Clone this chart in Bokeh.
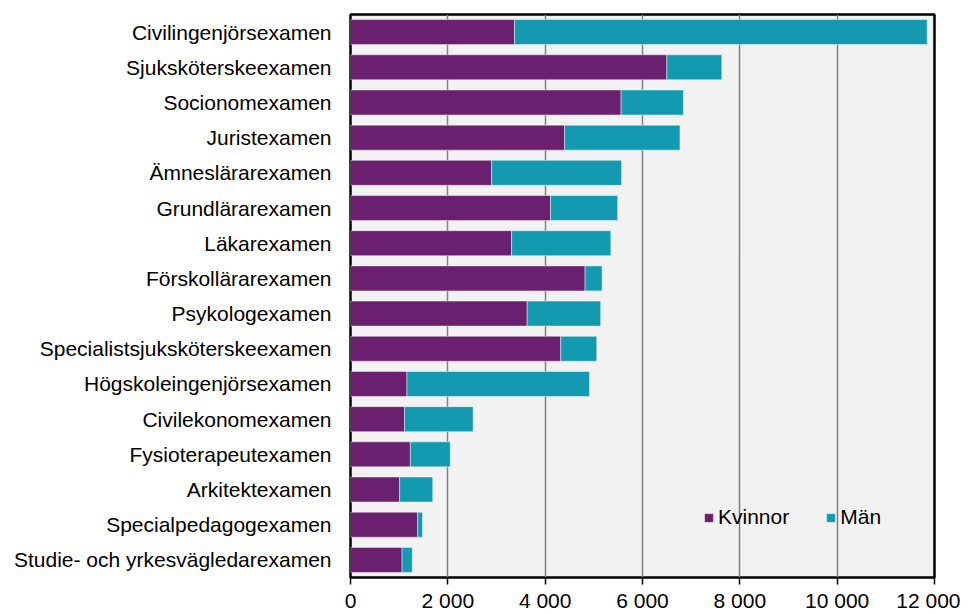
from bokeh.plotting import figure
from bokeh.models import ColumnDataSource, FactorRange, Legend, LegendItem, FixedTicker, Range1d
from bokeh.embed import file_html
from bokeh.resources import INLINE

categories = ["Civilingenjörsexamen", "Sjuksköterskeexamen", "Socionomexamen", "Juristexamen",
              "Ämneslärarexamen", "Grundlärarexamen", "Läkarexamen", "Förskollärarexamen",
              "Psykologexamen", "Specialistsjuksköterskeexamen", "Högskoleingenjörsexamen",
              "Civilekonomexamen", "Fysioterapeutexamen", "Arkitektexamen",
              "Specialpedagogexamen", "Studie- och yrkesvägledarexamen"]
kvinnor = [3370, 6500, 5560, 4400, 2900, 4110, 3310, 4820, 3630, 4320, 1160, 1110, 1230, 1010, 1380, 1060]
totals = [11850, 7630, 6840, 6770, 5570, 5490, 5350, 5170, 5140, 5060, 4910, 2520, 2050, 1690, 1480, 1270]
man = [t - k for t, k in zip(totals, kvinnor)]
series_names = ["Kvinnor", "Män"]
x_ticks = [0, 2000, 4000, 6000, 8000, 10000, 12000]
x_tick_labels = ["0", "2 000", "4 000", "6 000", "8 000", "10 000", "12 000"]

FONT = "Liberation Sans"
FS = "21px"
PURPLE = "#6A1F6F"
TEAL = "#139AB1"

source = ColumnDataSource(dict(cat=categories, Kvinnor=kvinnor, Män=man))

p = figure(width=960, height=614, output_backend="svg", toolbar_location=None,
           y_range=FactorRange(*reversed(categories), range_padding=0),
           x_range=Range1d(0, 12000),
           min_border_left=350, min_border_right=26, min_border_top=14, min_border_bottom=36)

rs = p.hbar_stack(series_names, y="cat", height=0.71, source=source,
                  color=[PURPLE, TEAL], line_color="white", line_alpha=0.45, line_width=1)

p.background_fill_color = "#F2F2F2"
p.border_fill_color = "white"
p.outline_line_color = "black"
p.outline_line_width = 2.5

p.ygrid.grid_line_color = None
p.xgrid.grid_line_color = "#808080"
p.xgrid.grid_line_width = 1.5
p.xgrid.ticker = FixedTicker(ticks=x_ticks)

p.xaxis.ticker = FixedTicker(ticks=x_ticks)
p.xaxis.major_label_overrides = {t: l for t, l in zip(x_ticks, x_tick_labels)}
p.xaxis.axis_line_color = None
p.xaxis.major_tick_line_color = "black"
p.xaxis.major_tick_line_width = 1.5
p.xaxis.major_tick_out = 7
p.xaxis.major_tick_in = 0
p.xaxis.minor_tick_line_color = None
p.xaxis.major_label_text_font = FONT
p.xaxis.major_label_text_font_size = FS
p.xaxis.major_label_text_color = "black"
p.xaxis.major_label_standoff = 4

p.yaxis.axis_line_color = None
p.yaxis.major_tick_line_color = None
p.yaxis.minor_tick_line_color = None
p.yaxis.major_label_text_font = FONT
p.yaxis.major_label_text_font_size = FS
p.yaxis.major_label_text_color = "black"
p.yaxis.major_label_standoff = 13

legend = Legend(items=[LegendItem(label=n, renderers=[r]) for n, r in zip(series_names, rs)],
                orientation="horizontal", location=(353, 48),
                background_fill_alpha=0, border_line_color=None,
                glyph_width=11, glyph_height=11, label_standoff=4, spacing=36,
                padding=0, margin=0, label_text_font=FONT, label_text_font_size=FS,
                label_text_color="black", label_height=24)
p.add_layout(legend, "center")

open("out.html", "w").write(file_html(p, INLINE))
